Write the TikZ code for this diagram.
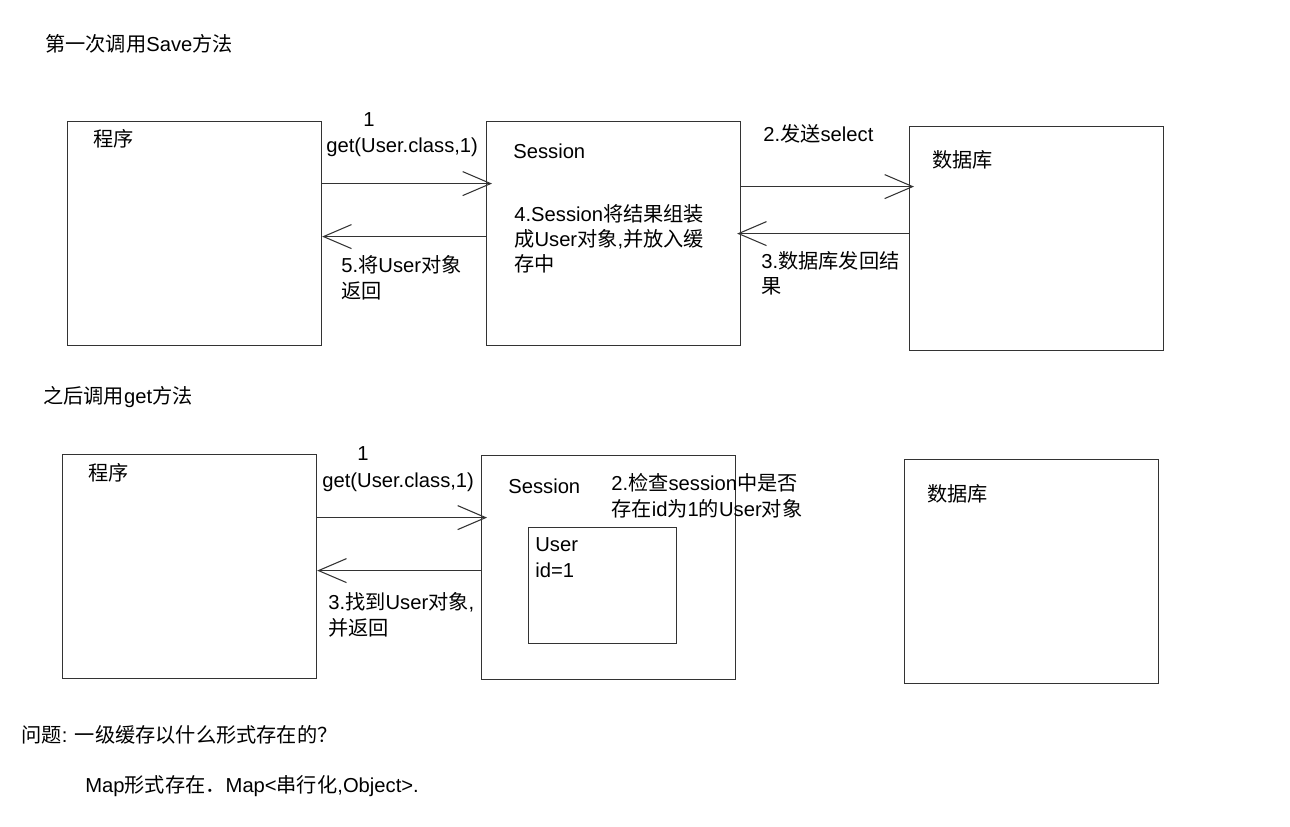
\documentclass[tikz,border=0pt]{standalone}
\usepackage{fontspec}
\setmainfont{Liberation Sans}
\newfontfamily\cjk{Noto Sans CJK SC}
\newcommand\zh[1]{{\cjk #1}}
\usetikzlibrary{arrows.meta}

\tikzset{
  box/.style={draw=black!80, line width=0.7pt, anchor=north west, inner sep=0pt,
    minimum width=5.08cm, minimum height=4.48cm},
  msg/.style={draw=black!80, line width=0.6pt,
    -{Straight Barb[length=0.56cm,width=0.48cm]}},
  lbl/.style={anchor=base west, inner sep=0pt, align=left,
    font=\fontsize{11.5pt}{14.4pt}\selectfont},
}

\begin{document}
\begin{tikzpicture}[x=0.02cm,y=-0.02cm]
\useasboundingbox (0,0) rectangle (1290,827);

% first call
\node[lbl] (title1) at (45,52) {\zh{第一次调用}Save\zh{方法}};
\node[box] (prog1) at (67,121) {};
\node[box] (sess1) at (486,121) {};
\node[box] (db1) at (909,126) {};
\node[lbl] (prog1l) at (93,147) {\zh{程序}};
\node[lbl] (sess1l) at (513,159) {Session};
\node[lbl] (db1l) at (932,168) {\zh{数据库}};
\node[lbl] (step1) at (363,127) {1};
\node[lbl] (get1) at (326,153) {get(User.class,1)};
\node[lbl] (step2) at (763,142) {2.\zh{发送}select};
% multi-line labels sit on their last line
\node[lbl] (step3) at (761,294) {3.\zh{数据库发回结}\\\zh{果}};
\node[lbl] (step4) at (514,272) {4.Session\zh{将结果组装}\\\zh{成}User\zh{对象},\zh{并放入缓}\\\zh{存中}};
\node[lbl] (step5) at (341,298) {5.\zh{将}User\zh{对象}\\\zh{返回}};

\draw[msg, shorten >=-0.12cm] ([yshift=1cm]prog1.east) -- ([yshift=1cm]prog1.east -| sess1.west);
\draw[msg] ([yshift=-0.06cm]sess1.west) -- ([yshift=-0.06cm]sess1.west -| prog1.east);
\draw[msg, shorten >=-0.1cm] ([yshift=0.94cm]sess1.east) -- ([yshift=0.94cm]sess1.east -| db1.west);
\draw[msg, shorten >=-0.08cm] ([yshift=0.1cm]db1.west) -- ([yshift=0.1cm]db1.west -| sess1.east);

% later calls
\node[lbl] (title2) at (43,403) {\zh{之后调用}get\zh{方法}};
\node[box] (prog2) at (62,454) {};
\node[box] (sess2) at (481,455) {};
\node[box] (db2) at (904,459) {};
\node[draw=black!80, line width=0.7pt, anchor=north west, inner sep=0pt,
  minimum width=2.96cm, minimum height=2.32cm] (cache) at (528,527) {};
\node[lbl] (prog2l) at (88,480) {\zh{程序}};
\node[lbl] (sess2l) at (508,493) {Session};
\node[lbl] (db2l) at (927,501) {\zh{数据库}};
\node[lbl] (user) at (535,577) {User\\id=1};
\node[lbl] (get2n) at (357,460) {1};
\node[lbl] (get2) at (322,487) {get(User.class,1)};
\node[lbl] (check) at (611,516) {2.\zh{检查}session\zh{中是否}\\\zh{存在}id\zh{为}1\zh{的}User\zh{对象}};
\node[lbl] (found) at (328,635) {3.\zh{找到}User\zh{对象},\\\zh{并返回}};

\draw[msg, shorten >=-0.12cm] ([yshift=0.98cm]prog2.east) -- ([yshift=0.98cm]prog2.east -| sess2.west);
\draw[msg] ([yshift=-0.06cm]sess2.west) -- ([yshift=-0.06cm]sess2.west -| prog2.east);

% question
\node[lbl] (quest) at (21,742) {\zh{问题}: \zh{一级缓存以什么形式存在的？}};
\node[lbl] (answer) at (85,792) {Map\zh{形式存在．}Map<\zh{串行化},Object>.};
\end{tikzpicture}
\end{document}
